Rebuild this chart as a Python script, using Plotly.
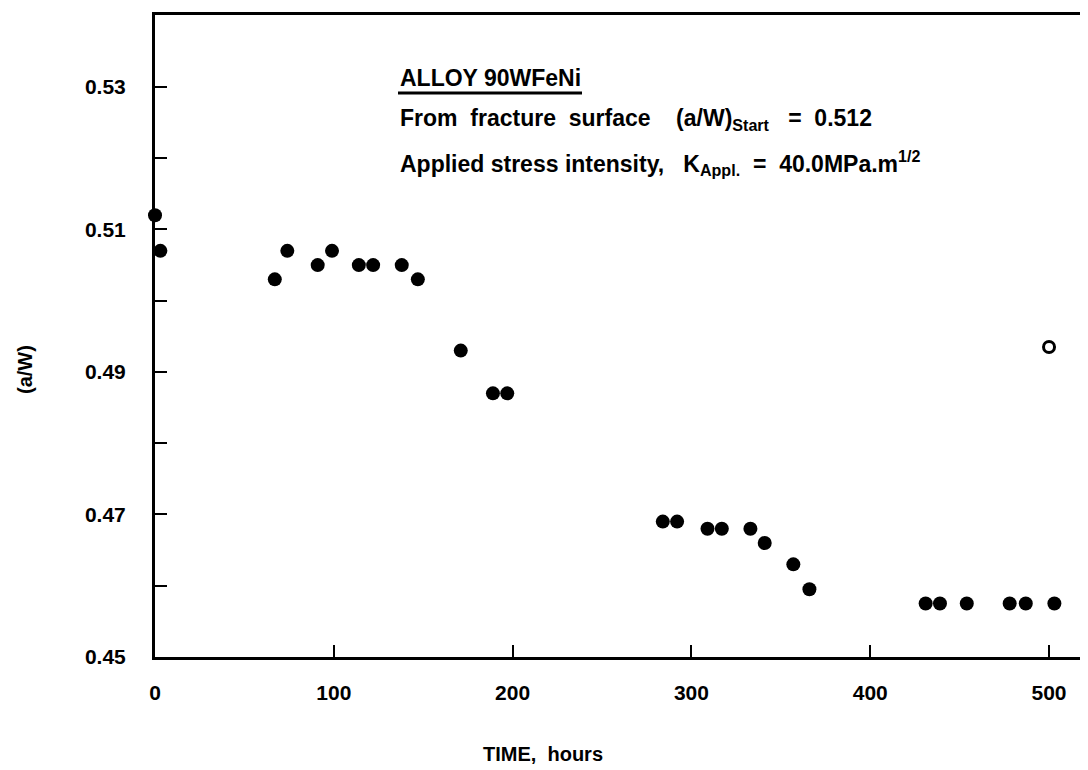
import plotly.graph_objects as go

# Data
time_h = [0, 3, 67, 74, 91, 99, 114, 122, 138, 147, 171, 189, 197,
          284, 292, 309, 317, 333, 341, 357, 366,
          431, 439, 454, 478, 487, 503]
a_over_w = [0.512, 0.507, 0.503, 0.507, 0.505, 0.507, 0.505, 0.505, 0.505, 0.503,
            0.493, 0.487, 0.487,
            0.469, 0.469, 0.468, 0.468, 0.468, 0.466, 0.463, 0.4595,
            0.4575, 0.4575, 0.4575, 0.4575, 0.4575, 0.4575]
open_time = [500]
open_aw = [0.4935]

x_tickvals = [0, 100, 200, 300, 400, 500]
y_tickvals = [0.45, 0.47, 0.49, 0.51, 0.53]
y_ticktext = ["0.45", "0.47", "0.49", "0.51", "0.53"]

FONT = "Liberation Sans"
NB = "\u00a0"

# page geometry (the page body adds an 8px offset)
PL, PR, PT, PB = 155, 1088, 15, 657


def px(xp):
    return (xp - PL) / (PR - PL)


def py(yp):
    return 1 - (yp - PT) / (PB - PT)


fig = go.Figure()
fig.add_trace(go.Scatter(x=time_h, y=a_over_w, mode="markers",
                         marker=dict(size=14, color="black", line=dict(width=0)),
                         cliponaxis=False, showlegend=False))
fig.add_trace(go.Scatter(x=open_time, y=open_aw, mode="markers",
                         marker=dict(size=11, color="white", symbol="circle",
                                     line=dict(width=3, color="black")),
                         cliponaxis=False, showlegend=False))

fig.update_layout(
    width=1080, height=762,
    margin=dict(l=147, r=0, t=7, b=113),
    paper_bgcolor="white", plot_bgcolor="white",
    font=dict(family=FONT, color="black", size=20),
    xaxis=dict(range=[0, 521.8], tickvals=x_tickvals,
               ticktext=[f"<b>{v}</b>" for v in x_tickvals],
               ticks="inside", ticklen=12, tickwidth=2, tickcolor="black",
               showline=True, linewidth=3, linecolor="black", mirror=True,
               showgrid=False, zeroline=False, ticklabelstandoff=15,
               tickfont=dict(size=21, family=FONT)),
    yaxis=dict(range=[0.45, 0.5401], tickvals=y_tickvals,
               ticktext=[f"<b>{t}</b>" for t in y_ticktext],
               ticks="inside", ticklen=12, tickwidth=2, tickcolor="black",
               minor=dict(dtick=0.01, tick0=0.45, ticks="inside", ticklen=12,
                          tickwidth=2, tickcolor="black", showgrid=False),
               showline=True, linewidth=3, linecolor="black", mirror=False,
               showgrid=False, zeroline=False, ticklabelstandoff=22,
               tickfont=dict(size=21, family=FONT)),
)

# axis titles
fig.add_annotation(xref="paper", yref="paper", x=px(25), y=py(370),
                   text="<b>(a/W)</b>", textangle=-90, showarrow=False,
                   xanchor="center", yanchor="middle",
                   font=dict(size=20, family=FONT, color="black"))
fig.add_annotation(xref="paper", yref="paper", x=px(543), y=py(754),
                   text=f"<b>TIME,{NB}{NB}hours</b>", showarrow=False,
                   xanchor="center", yanchor="middle",
                   font=dict(size=20, family=FONT, color="black"))

notes = [
    ("<b>ALLOY 90WFeNi</b>", 78),
    (f"<b>From{NB}{NB}fracture{NB}{NB}surface{NB}{NB}{NB}{NB}(a/W)<sub>Start</sub>{NB}{NB}{NB}={NB}{NB}0.512</b>", 120),
    (f"<b>Applied{NB}stress{NB}intensity,{NB}{NB}{NB}K<sub>Appl.</sub>{NB}{NB}={NB}{NB}40.0MPa.m<sup>1/2</sup></b>", 163),
]
for txt, yy in notes:
    fig.add_annotation(xref="paper", yref="paper", x=px(398), y=py(yy),
                       text=txt, showarrow=False, xanchor="left", yanchor="middle",
                       font=dict(size=23, family=FONT, color="black"))

# underline of the alloy label
fig.add_shape(type="line", xref="paper", yref="paper",
              x0=px(398), x1=px(582), y0=py(93), y1=py(93),
              line=dict(color="black", width=3))

fig.write_html("out.html")
